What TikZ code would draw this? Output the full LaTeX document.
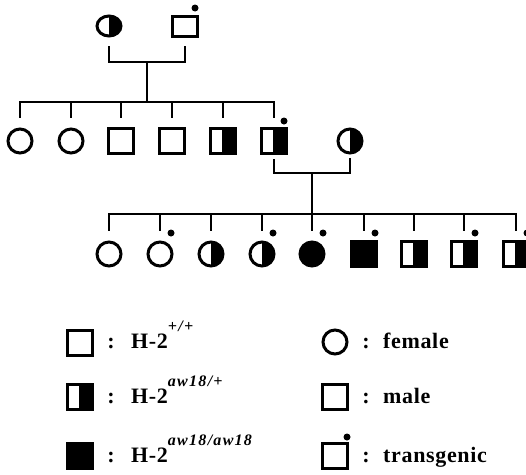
\documentclass[tikz,border=0pt]{standalone}
\usepackage{fontspec}
\setmainfont{Liberation Serif}
\newfontfamily\lgfont[LetterSpace=3]{Liberation Serif}
\newfontfamily\supfont[LetterSpace=8]{Liberation Serif}
\usetikzlibrary{shapes.geometric}
\tikzset{
  sym/.style={draw, line width=3pt, inner sep=0pt},
  fem/.style={sym, circle, minimum size=24pt},
  mal/.style={sym, rectangle, minimum size=25pt},
  halfc/.style={path picture={\fill (path picture bounding box.south) rectangle (path picture bounding box.north east);}},
  halfs/.style={path picture={\fill ([xshift=-1pt]path picture bounding box.south) rectangle (path picture bounding box.north east);}},
  full/.style={fill=black},
  link/.style={line width=2.6pt, line cap=rect},
  tg/.style={fill, circle, inner sep=0pt, minimum size=7pt},
  lab/.style={font=\lgfont\bfseries\fontsize{22}{22}\selectfont, anchor=base west, inner sep=0pt},
  colon/.style={font=\lgfont\bfseries\fontsize{22}{22}\selectfont, anchor=base, inner sep=0pt},
}
\newcommand{\supx}[1]{\raisebox{17pt}{\supfont\bfseries\itshape\fontsize{16}{16}\selectfont #1}}
\begin{document}
\begin{tikzpicture}[x=1pt,y=-1pt]
\useasboundingbox (0,0) rectangle (526,474);
% Generation I
\node[sym, ellipse, minimum width=24pt, minimum height=20pt, halfc] (F1) at (109,26) {};
\node[sym, rectangle, minimum width=25pt, minimum height=20pt] (M1) at (185,26) {};
\node[tg] (tM1) at ([xshift=10pt,yshift=18pt]M1.center) {};
\coordinate (m1) at (147,62);
\coordinate (s1) at (147,102);
\draw[link] ([yshift=-10pt]F1.south) -- (F1 |- m1) -- (M1 |- m1) -- ([yshift=-10pt]M1.south);
\draw[link] (m1) -- (s1);
% Generation II
\node[fem] (A1) at (20,141) {};
\node[fem] (A2) at (71,141) {};
\node[mal] (A3) at (121,141) {};
\node[mal] (A4) at (172,141) {};
\node[mal, halfs] (A5) at (223,141) {};
\node[mal, halfs] (A6) at (274,141) {};
\node[tg] (tA6) at ([xshift=10pt,yshift=20pt]A6.center) {};
\node[fem, halfc] (B) at (350,141) {};
\coordinate (d2) at (0,117);
\draw[link] (A1 |- s1) -- (A6 |- s1);
\foreach \i in {1,...,6} \draw[link] (A\i |- s1) -- (A\i |- d2);
\coordinate (m2) at (312,173);
\coordinate (s2) at (312,214);
\draw[link] ([yshift=-5pt]A6.south) -- (A6 |- m2) -- (B |- m2) -- ([yshift=-5pt]B.south);
\draw[link] (m2) -- (s2);
% Generation III
\node[fem] (C1) at (109,254) {};
\node[fem] (C2) at (160,254) {};
\node[fem, halfc] (C3) at (211,254) {};
\node[fem, halfc] (C4) at (262,254) {};
\node[fem, full] (C5) at (312,254) {};
\node[mal, full] (C6) at (364,254) {};
\node[mal, halfs] (C7) at (414,254) {};
\node[mal, halfs] (C8) at (464,254) {};
\node[mal, halfs] (C9) at (516,254) {};
\foreach \i in {2,4,5,6,8,9} \node[tg] (tC\i) at ([xshift=11pt,yshift=21pt]C\i.center) {};
\coordinate (d3) at (0,230);
\draw[link] (C1 |- s2) -- (C9 |- s2);
\foreach \i in {1,...,9} \draw[link] (C\i |- s2) -- (C\i |- d3);
% Legend left
\node[mal] (L1) at (80,343) {};
\node[mal, halfs] (L2) at (80,397) {};
\node[mal, full] (L3) at (80,456) {};
\node[colon] (k1) at (111,348) {:};
\node[colon] (k2) at (111,403) {:};
\node[colon] (k3) at (111,462) {:};
\node[lab] (t1) at (131,348) {H-2\supx{+/+}};
\node[lab] (t2) at (131,403) {H-2\supx{aw18/+}};
\node[lab] (t3) at (131,462) {H-2\supx{aw18/aw18}};
% Legend right
\node[fem] (R1) at (335,342) {};
\node[mal] (R2) at (335,397) {};
\node[mal] (R3) at (335,456) {};
\node[tg] (tR3) at ([xshift=12pt,yshift=19pt]R3.center) {};
\node[colon] (k4) at (366,348) {:};
\node[colon] (k5) at (366,403) {:};
\node[colon] (k6) at (366,462) {:};
\node[lab] (u1) at (383,348) {female};
\node[lab] (u2) at (383,403) {male};
\node[lab] (u3) at (383,462) {transgenic};
\end{tikzpicture}
\end{document}
